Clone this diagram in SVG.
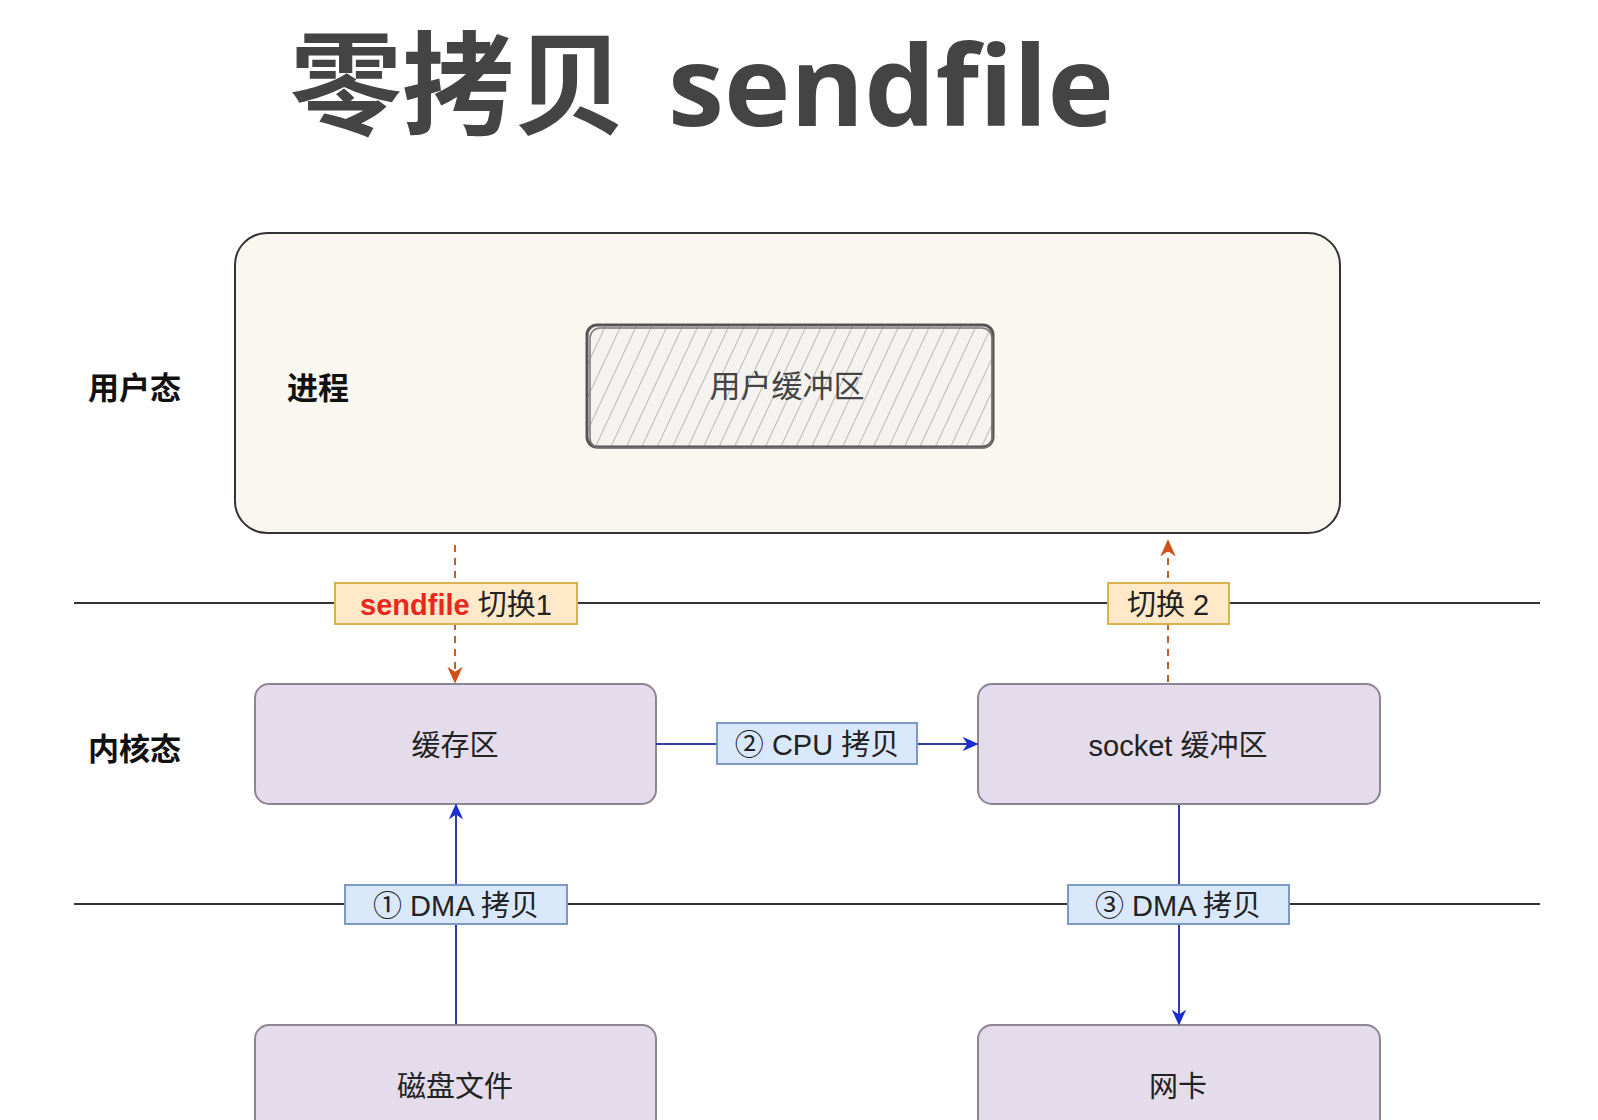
<svg xmlns="http://www.w3.org/2000/svg" width="1598" height="1120" viewBox="0 0 1598 1120">
<defs>
<style>
.lbl{font-family:"Liberation Sans","Noto Sans CJK SC",sans-serif;font-size:29px;fill:#222;text-anchor:middle;dominant-baseline:central;}
.side{font-family:"Noto Sans CJK SC",sans-serif;font-size:31px;font-weight:bold;fill:#111;dominant-baseline:central;}
.kbox{fill:#e4dceb;stroke:#8d8494;stroke-width:2;}
.blue{fill:#dae8fc;stroke:#7d9ac6;stroke-width:2;}
.orange{fill:#ffe9c8;stroke:#d7b24e;stroke-width:2;}
.sep{stroke:#333;stroke-width:2;}
.blueline{stroke:#2c3fa8;stroke-width:2;fill:none;}
.dash{stroke:#c0602a;stroke-width:2;stroke-dasharray:7 6;fill:none;}
</style>
<pattern id="hatch" width="14" height="14" patternUnits="userSpaceOnUse" patternTransform="rotate(25)">
<rect width="14" height="14" fill="#f4f3ef"/>
<line x1="0" y1="0" x2="0" y2="14" stroke="#9a9a9a" stroke-width="1.3"/>
</pattern>
<marker id="blueArrow" viewBox="0 0 10 10" refX="9" refY="5" markerWidth="16" markerHeight="16" markerUnits="userSpaceOnUse" orient="auto">
<path d="M0,0.5 L10,5 L0,9.5 L3,5 Z" fill="#1a2fd0"/>
</marker>
<marker id="orangeArrow" viewBox="0 0 10 10" refX="9" refY="5" markerWidth="17" markerHeight="17" markerUnits="userSpaceOnUse" orient="auto">
<path d="M0,0.5 L10,5 L0,9.5 L3,5 Z" fill="#d0501a"/>
</marker>
</defs>
<rect width="1598" height="1120" fill="#ffffff"/>

<text x="290" y="126" style="font-family:'Open Sans','Noto Sans CJK SC',sans-serif;font-size:112px;font-weight:bold;fill:#444;">零拷贝 <tspan x="668" textLength="446" lengthAdjust="spacingAndGlyphs">sendfile</tspan></text>

<g id="separators">
<line x1="74" y1="603" x2="1540" y2="603" class="sep"/>
<line x1="74" y1="904" x2="1540" y2="904" class="sep"/>
</g>

<text x="88" y="385" class="side">用户态</text>
<text x="88" y="746" class="side">内核态</text>

<g id="process">
<rect x="235" y="233" width="1105" height="300" rx="32" fill="#f9f7f0" stroke="#333" stroke-width="2"/>
<text x="287" y="385" class="side">进程</text>
</g>

<g id="user-buffer">
<rect x="587" y="325" width="406" height="122" rx="10" fill="url(#hatch)" stroke="#555" stroke-width="3"/>
<rect x="590" y="328" width="402" height="120" rx="10" fill="none" stroke="#777" stroke-width="1.5"/>
<text x="787" y="386" class="lbl" style="font-size:31px;fill:#444;">用户缓冲区</text>
</g>

<g id="page-cache">
<rect x="255" y="684" width="401" height="120" rx="14" class="kbox"/>
<text x="455" y="746" class="lbl">缓存区</text>
</g>

<g id="socket-buffer">
<rect x="978" y="684" width="402" height="120" rx="14" class="kbox"/>
<text x="1178" y="746" class="lbl">socket 缓冲区</text>
</g>

<g id="disk-file">
<rect x="255" y="1025" width="401" height="120" rx="14" class="kbox"/>
<text x="455" y="1087" class="lbl">磁盘文件</text>
</g>

<g id="nic">
<rect x="978" y="1025" width="402" height="120" rx="14" class="kbox"/>
<text x="1178" y="1087" class="lbl">网卡</text>
</g>

<g id="connectors">
<line x1="455" y1="545" x2="455" y2="682" class="dash" marker-end="url(#orangeArrow)"/>
<line x1="1168" y1="682" x2="1168" y2="541" class="dash" marker-end="url(#orangeArrow)"/>
<line x1="656" y1="744" x2="977" y2="744" class="blueline" marker-end="url(#blueArrow)"/>
<line x1="456" y1="1024" x2="456" y2="805" class="blueline" marker-end="url(#blueArrow)"/>
<line x1="1179" y1="805" x2="1179" y2="1024" class="blueline" marker-end="url(#blueArrow)"/>
</g>

<g id="label-switch1">
<rect x="335" y="583" width="242" height="41" class="orange"/>
<text x="456" y="605" class="lbl"><tspan fill="#e8281e" font-weight="bold">sendfile</tspan> 切换1</text>
</g>

<g id="label-switch2">
<rect x="1108" y="583" width="121" height="41" class="orange"/>
<text x="1168" y="605" class="lbl">切换 2</text>
</g>

<g id="label-cpu">
<rect x="717" y="723" width="200" height="41" class="blue"/>
<text x="817" y="745" class="lbl">② CPU 拷贝</text>
</g>

<g id="label-dma1">
<rect x="345" y="885" width="222" height="39" class="blue"/>
<text x="456" y="906" class="lbl">① DMA 拷贝</text>
</g>

<g id="label-dma3">
<rect x="1068" y="885" width="221" height="39" class="blue"/>
<text x="1178" y="906" class="lbl">③ DMA 拷贝</text>
</g>
</svg>
